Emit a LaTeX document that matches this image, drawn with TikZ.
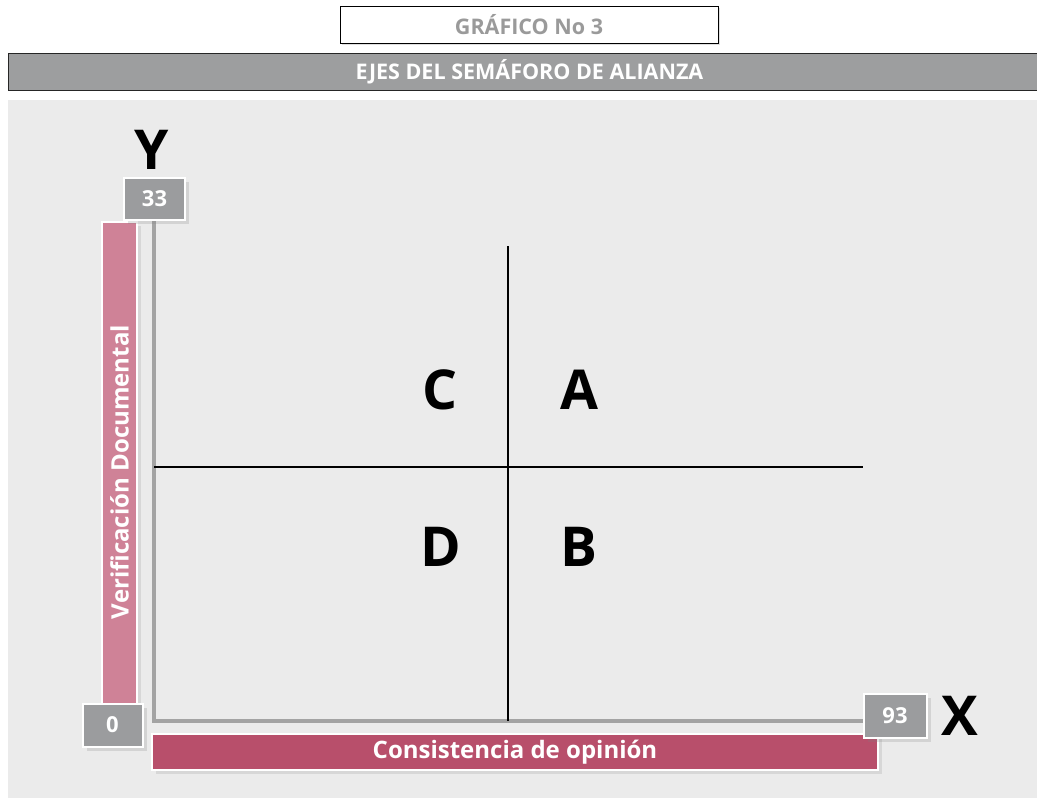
\documentclass[tikz,border=0pt]{standalone}
\usepackage{fontspec}
\setmainfont{Open Sans}
\usetikzlibrary{shadows}
\definecolor{panel}{HTML}{EBEBEB}
\definecolor{hdrgray}{HTML}{9D9E9F}
\definecolor{boxgray}{HTML}{9B9C9E}
\definecolor{axisgray}{HTML}{A3A3A3}
\definecolor{pinklight}{HTML}{CF8297}
\definecolor{pinkdark}{HTML}{B84F6B}
\definecolor{titlegray}{HTML}{9A9A9A}
\begin{document}
\begin{tikzpicture}[x=1pt,y=-1pt,
  hdrtext/.style={font=\fontsize{21.5}{24}\selectfont\bfseries},
  bartext/.style={font=\fontsize{24}{27}\selectfont\bfseries},
  numtext/.style={font=\fontsize{22}{25}\selectfont\bfseries},
  titlebox/.style={draw=black, line width=0.8pt, fill=white, text=titlegray, hdrtext, inner sep=0pt,
    drop shadow={shadow xshift=1.5pt, shadow yshift=-1.5pt, opacity=0.25}},
  hdrbar/.style={fill=hdrgray, draw=black!85, line width=1pt, text=white, hdrtext, inner sep=0pt},
  numbox/.style={fill=boxgray, draw=white, line width=2pt, text=white, numtext, inner sep=0pt,
    drop shadow={shadow xshift=4pt, shadow yshift=-4pt, opacity=0.22}},
  pinkbar/.style={draw=white, line width=2pt, text=white, bartext, inner sep=0pt,
    drop shadow={shadow xshift=4pt, shadow yshift=-4pt, opacity=0.18}},
  axisline/.style={draw=axisgray, line width=3.5pt},
  quadline/.style={draw=black, line width=2pt},
  bigletter/.style={font=\fontsize{55}{55}\selectfont\bfseries, text=black, inner sep=0pt}
]
\useasboundingbox (0,0) rectangle (1037,798);
\clip (0,0) rectangle (1037,798);
\fill[white] (0,0) rectangle (1037,798);

% title and header
\node[titlebox, minimum width=378pt, minimum height=37pt] (title) at (529,24.5) {GRÁFICO No 3};
\node[hdrbar, minimum width=1043pt, minimum height=37pt] (header) at (529.5,71.5) {EJES DEL SEMÁFORO DE ALIANZA};

% panel
\fill[panel] (8,100) rectangle (1040,800);

% pink bars
\node[pinkbar, fill=pinklight, rotate=90, minimum width=500pt, minimum height=35pt] (vbar) at (119.5,472) {Verificación Documental};
\node[pinkbar, fill=pinkdark, minimum width=726pt, minimum height=36pt] (hbar) at (515,752) {Consistencia de opinión};

% axes
\coordinate (ytop) at (154,219);
\coordinate (O) at (154,721);
\coordinate (xend) at (864,721);
\draw[axisline] (ytop) -- (O) -- (xend);

% quadrant lines
\coordinate (qtop) at (507.5,246);
\coordinate (qbot) at (507.5,721);
\coordinate (ql) at (154,466.5);
\coordinate (qr) at (863,466.5);
\draw[quadline] (qtop) -- (qbot);
\draw[quadline] (ql) -- (qr);

% number boxes
\node[numbox, minimum width=61pt, minimum height=42pt] (n33) at (154.5,198.5) {33};
\node[numbox, minimum width=60pt, minimum height=43pt] (n0) at (112.5,725) {0};
\node[numbox, minimum width=63pt, minimum height=44pt] (n93) at (895,715.5) {93};

% axis letters
\node[bigletter] (Y) at (152,150) {Y};
\node[bigletter] (X) at (960,716) {X};

% quadrant letters
\node[bigletter] (C) at (440,390) {C};
\node[bigletter] (A) at (579,390) {A};
\node[bigletter] (D) at (441,547) {D};
\node[bigletter] (B) at (579,547) {B};
\end{tikzpicture}
\end{document}
